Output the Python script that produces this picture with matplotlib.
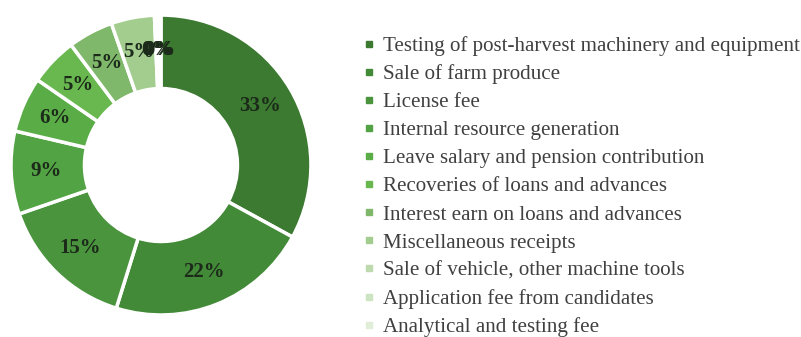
import matplotlib.pyplot as plt
from matplotlib.lines import Line2D

# revenue sources and their share of receipts (%)
sources = [
    "Testing of post-harvest machinery and equipment",
    "Sale of farm produce",
    "License fee",
    "Internal resource generation",
    "Leave salary and pension contribution",
    "Recoveries of loans and advances",
    "Interest earn on loans and advances",
    "Miscellaneous receipts",
    "Sale of vehicle, other machine tools",
    "Application fee from candidates",
    "Analytical and testing fee",
]
shares = [33.2, 22.0, 15.0, 9.0, 6.0, 5.2, 4.9, 4.7, 0.3, 0.2, 0.2]

colors = ["#3b7a30", "#438a38", "#4a943e", "#52a343", "#5aad46", "#68b84f",
          "#80b86b", "#a3cc8f", "#bcdaae", "#cde4c2", "#e0eed8"]

fig = plt.figure(figsize=(8.01, 3.37), dpi=100)
ax = fig.add_axes([0.0137, 0.0653, 0.3745, 0.890])

wedges, texts, autotexts = ax.pie(
    shares, colors=colors, startangle=90, counterclock=False,
    autopct="%.0f%%", pctdistance=0.77,
    wedgeprops=dict(width=0.49, edgecolor="white", linewidth=2.5),
    textprops=dict(family="Liberation Serif", fontsize=15,
                   fontweight="bold", color="#1c2a1a"),
)
ax.set_xlim(-1, 1)
ax.set_ylim(-1, 1)
ax.set_aspect("equal")

handles = [Line2D([], [], marker="s", linestyle="none", markersize=4,
                  markerfacecolor=c, markeredgecolor=c) for c in colors]
leg = fig.legend(handles, sources, loc="upper left",
                 bbox_to_anchor=(363 / 801, 1 - 36 / 337),
                 frameon=False, handlelength=0.6, handletextpad=0.35,
                 labelspacing=0.40, borderpad=0, borderaxespad=0,
                 prop=dict(family="Liberation Serif", size=15.1))
for t in leg.get_texts():
    t.set_color("#404040")

fig.savefig("out.png", dpi=100)
